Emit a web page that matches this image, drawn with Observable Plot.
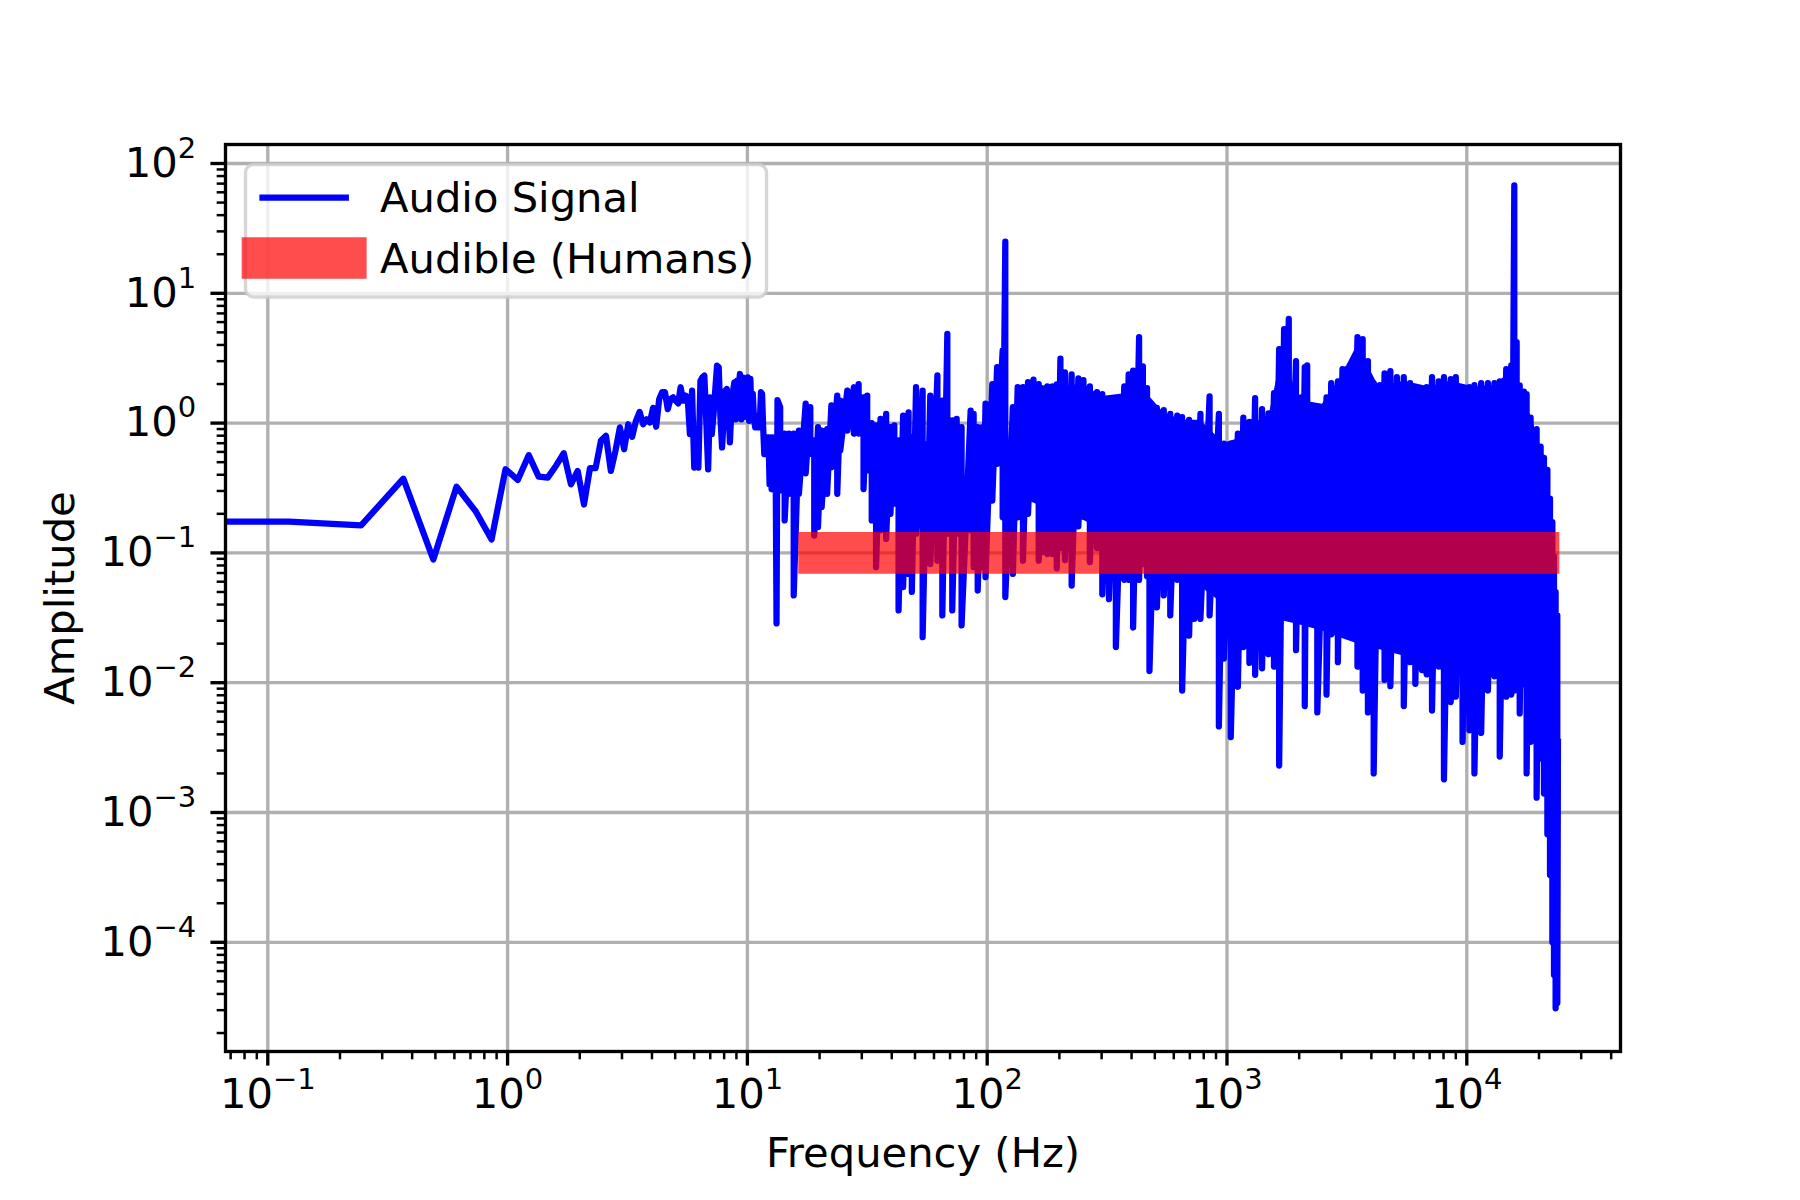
<!DOCTYPE html>
<html>
<head>
<meta charset="utf-8">
<script src="https://cdn.jsdelivr.net/npm/d3@7"></script>
<script src="https://cdn.jsdelivr.net/npm/@observablehq/plot@0.6"></script>
<style>
  html, body { margin: 0; padding: 0; background: #ffffff; }
  #chart { width: 1800px; height: 1200px; }
</style>
</head>
<body>
<div id="chart"></div>
<script>
// ---------------- DATA ----------------
// Individual FFT bins at low frequency: [frequency Hz, amplitude]
const lowBins = [
  [0, 0.174], [0.1225, 0.174], [0.245, 0.163], [0.3675, 0.373], [0.49, 0.089],
  [0.6125, 0.324], [0.735, 0.21], [0.8575, 0.127], [0.98, 0.441], [1.1025, 0.365],
  [1.225, 0.566], [1.3475, 0.387], [1.47, 0.38], [1.5925, 0.47], [1.715, 0.586],
  [1.8375, 0.337], [1.96, 0.428], [2.0825, 0.236], [2.205, 0.449], [2.3275, 0.449],
  [2.45, 0.73], [2.5725, 0.798], [2.695, 0.428], [2.8175, 0.611], [2.94, 0.926],
  [3.0625, 0.629], [3.185, 0.98], [3.3075, 0.784], [3.43, 1.04], [3.5525, 1.22],
  [3.675, 0.98], [3.7975, 1.07], [3.92, 1.01], [4.0425, 1.31], [4.165, 0.937],
  [4.2875, 1.53], [4.41, 1.73], [4.5325, 1.73], [4.655, 1.28], [4.7775, 1.53],
  [4.9, 1.58], [5.0225, 1.49], [5.145, 1.42], [5.2675, 1.89], [5.39, 1.49],
  [5.5125, 1.63], [5.635, 1.58], [5.7575, 0.822], [5.88, 1.78], [6.0025, 0.454],
  [6.125, 0.872], [6.2475, 0.454], [6.37, 2.12], [6.4925, 2.25], [6.615, 2.32],
  [6.7375, 1.04], [6.86, 0.44], [6.9825, 1.58], [7.105, 0.822], [7.2275, 1.17],
  [7.35, 1.83], [7.4725, 2.77], [7.595, 2.69], [7.7175, 1.11], [7.84, 0.649],
  [7.9625, 1.04], [8.085, 1.78], [8.2075, 1.83], [8.33, 1.49], [8.4525, 0.71],
  [8.575, 1.25], [8.6975, 1.73], [8.82, 2.06], [8.9425, 1.07], [9.065, 2.12],
  [9.1875, 1.89], [9.31, 2.39], [9.4325, 1.07], [9.555, 2.25], [9.6775, 1.11],
  [9.8, 2.12], [9.9225, 1.17], [10.045, 2.25], [10.1675, 1.04], [10.29, 2.19],
  [10.4125, 1.11], [10.535, 1.68], [10.6575, 1.07], [10.78, 0.926], [10.9025, 1.04],
  [11.025, 1.14], [11.1475, 0.926], [11.27, 1.04], [11.3925, 1.73], [11.515, 1.68],
  [11.6375, 0.926], [11.76, 0.576], [11.8825, 0.775], [12.005, 0.576], [12.1275, 0.775],
  [12.25, 0.775], [12.3725, 0.337], [12.495, 0.775], [12.6175, 0.309], [12.74, 0.775],
  [12.8625, 0.32], [12.985, 0.775], [13.1075, 0.6], [13.23, 0.0286], [13.3525, 1.5]
];

// Dense part of the spectrum, read as successive strokes: [frequency Hz, stroke top, stroke bottom]
const strokes = [
  [13.7, 1.33, 0.303], [14.3, 0.83, 0.178], [14.9, 0.83, 0.285], [15.6, 0.83, 0.047],
  [16.4, 0.877, 0.285], [17.5, 1.41, 0.41], [18.3, 1.33, 0.58], [19.0, 0.735, 0.136],
  [19.7, 0.93, 0.158], [20.4, 0.877, 0.225], [21.5, 0.90, 0.285], [22.4, 1.37, 0.457],
  [23.7, 1.63, 0.285], [24.4, 1.49, 0.615], [26.1, 1.78, 0.877], [27.8, 1.89, 0.83],
  [29.1, 2.0, 0.83], [30.5, 1.58, 0.31], [31.6, 1.63, 0.432], [33.0, 1.0, 0.178],
  [34.4, 0.96, 0.0776], [35.9, 1.08, 0.149], [37.9, 1.18, 0.128], [39.5, 0.93, 0.2],
  [41.0, 0.96, 0.24], [42.7, 0.735, 0.036], [44.6, 1.14, 0.0545], [47.0, 1.21, 0.0689],
  [48.5, 0.78, 0.05], [50.5, 1.89, 0.14], [53.8, 1.78, 0.0224], [56.0, 0.69, 0.105],
  [57.9, 1.63, 0.082], [62.0, 2.33, 0.087], [65.0, 1.49, 0.033], [68.2, 4.87, 0.14],
  [71.5, 1.05, 0.036], [74.6, 1.08, 0.14], [78.2, 0.93, 0.0276], [85.3, 1.25, 0.149],
  [87.8, 1.18, 0.0776], [91.3, 0.93, 0.0513], [95.5, 0.93, 0.0776], [98.4, 1.41, 0.065],
  [105, 2.0, 0.253], [110, 2.7, 0.486], [116, 3.63, 0.188], [119, 25, 0.0457],
  [128, 1.33, 0.0689], [134, 1.89, 0.188], [141, 1.89, 0.087], [148, 2.07, 0.2],
  [156, 2.16, 0.32], [164, 2.0, 0.087], [169, 1.86, 0.101], [178, 1.92, 0.098],
  [187, 1.92, 0.098], [195, 1.99, 0.076], [202, 3.14, 0.109], [211, 2.46, 0.088],
  [225, 2.37, 0.056], [240, 2.21, 0.16], [252, 2.14, 0.19], [268, 1.92, 0.085],
  [287, 1.73, 0.109], [302, 1.67, 0.048], [322, 1.35, 0.044], [344, 1.56, 0.0188],
  [373, 1.92, 0.062], [389, 2.37, 0.062], [406, 2.54, 0.0266], [430, 4.6, 0.062],
  [446, 2.73, 0.082], [464, 1.86, 0.066], [475, 1.35, 0.0123], [510, 1.31, 0.038],
  [545, 1.26, 0.047], [580, 1.18, 0.033], [620, 1.14, 0.062], [650, 1.11, 0.0087],
  [695, 1.06, 0.023], [730, 1.0, 0.031], [775, 1.18, 0.031], [846, 1.61, 0.033],
  [925, 1.18, 0.0046], [970, 0.696, 0.0153], [1037, 0.696, 0.0038], [1110, 0.83, 0.0093],
  [1170, 1.1, 0.0188], [1240, 1.02, 0.0142], [1310, 1.56, 0.0115], [1400, 1.28, 0.0129],
  [1490, 1.19, 0.0166], [1570, 1.7, 0.0133], [1650, 3.72, 0.0023], [1730, 5.3, 0.0517],
  [1810, 6.34, 0.0517], [1940, 3.0, 0.0178], [2040, 1.58, 0.0337], [2110, 2.7, 0.0066],
  [2160, 2.79, 0.0314], [2250, 1.37, 0.0337], [2380, 1.32, 0.0059], [2600, 1.58, 0.0081],
  [2720, 2.03, 0.0236], [2900, 2.1, 0.0144], [3030, 2.6, 0.0417], [3150, 2.6, 0.0254],
  [3340, 2.42, 0.0337], [3500, 4.6, 0.0133], [3680, 4.43, 0.0087], [3870, 3.0, 0.0059],
  [4090, 2.03, 0.002], [4330, 1.96, 0.0254], [4540, 2.42, 0.0105], [4800, 2.51, 0.0094],
  [5110, 2.26, 0.0205], [5460, 2.26, 0.0066], [5800, 2.03, 0.0144], [6100, 1.82, 0.0098],
  [6500, 1.82, 0.0125], [6800, 1.89, 0.0116], [7160, 2.26, 0.0061], [7630, 2.1, 0.0133],
  [8030, 2.26, 0.0018], [8570, 2.18, 0.0071], [9000, 2.26, 0.0078], [9600, 1.82, 0.0035],
  [10250, 1.89, 0.0043], [10760, 1.96, 0.002], [11480, 2.03, 0.0041], [12250, 2.03, 0.0087],
  [13040, 2.03, 0.0112], [13720, 2.1, 0.0027], [14600, 2.6, 0.0078], [15330, 2.79, 0.0081],
  [15780, 67.9, 0.0087], [16140, 4.2, 0.0126], [16620, 1.95, 0.0058], [17300, 1.75, 0.0097],
  [17760, 1.67, 0.002], [18460, 1.1, 0.0035], [19550, 0.9, 0.0013], [20320, 0.66, 0.0026],
  [20980, 0.54, 0.0014], [21680, 0.437, 0.00068], [22230, 0.262, 0.00033], [22740, 0.173, 0.0001],
  [23100, 0.094, 0.000056], [23460, 0.05, 0.000031], [23850, 0.033, 0.000034], [24000, 0.0035, 0.0035]
];

// Where the strokes merge into a solid band: [frequency Hz, upper, lower]
const solidCore = [
  [125, 1.3, 0.3], [150, 1.8, 0.25], [200, 1.9, 0.2], [250, 2.0, 0.18], [300, 1.6, 0.15],
  [390, 1.7, 0.12], [450, 1.8, 0.1], [545, 1.2, 0.08], [650, 1.05, 0.065], [775, 1.05, 0.055],
  [970, 0.7, 0.04], [1100, 0.75, 0.04], [1300, 1.0, 0.035], [1500, 1.15, 0.032], [1700, 3.5, 0.03],
  [2000, 1.5, 0.028], [2500, 1.4, 0.025], [3000, 2.3, 0.022], [3500, 4.0, 0.02], [4300, 1.9, 0.018],
  [5500, 2.1, 0.016], [7000, 1.9, 0.015], [8500, 2.1, 0.014], [10800, 1.9, 0.013], [13000, 1.95, 0.013],
  [15300, 2.5, 0.012], [17300, 1.6, 0.01], [19500, 0.85, 0.007], [21700, 0.4, 0.003], [22700, 0.15, 0.0008]
];

// Audible range marker (humans)
const audibleRangeHz = [20, 20000];
const audibleLevel = [0.1];

// Axes
const xMajorTicks = [0.1, 1, 10, 100, 1000, 10000];
const yMajorTicks = [1e-4, 1e-3, 1e-2, 1e-1, 1, 10, 100];
const xDomain = [0.06663, 43750];
const yDomain = [1.441e-5, 140.1];
const legendLabels = ["Audio Signal", "Audible (Humans)"];
const xLabel = "Frequency (Hz)";
const yLabel = "Amplitude";

// ---------------- BUILD ----------------
const signal = lowBins.map(([f, a]) => ({f, a}));
for (const [f, top, bottom] of strokes) {
  signal.push({f, a: top});
  signal.push({f, a: bottom});
}
const core = solidCore.map(([f, hi, lo]) => ({f, hi, lo}));

const minorMultipliers = [2, 3, 4, 5, 6, 7, 8, 9];
function minorTicks([lo, hi]) {
  const out = [];
  for (let e = Math.floor(Math.log10(lo)); e <= Math.ceil(Math.log10(hi)); e++) {
    for (const m of minorMultipliers) {
      const v = m * Math.pow(10, e);
      if (v >= lo && v <= hi) out.push(v);
    }
  }
  return out;
}
const powerLabel = (d) => "10^" + Math.round(Math.log10(d));

const BLUE = "#0000ff";
const GRID = "#b0b0b0";
const FS = 41.67;

const plot = Plot.plot({
  width: 1800,
  height: 1200,
  marginLeft: 225,
  marginRight: 180,
  marginTop: 144,
  marginBottom: 149,
  x: {type: "log", domain: xDomain},
  y: {type: "log", domain: yDomain},
  style: {fontFamily: "'DejaVu Sans', sans-serif", fontSize: FS + "px", color: "black", background: "white", overflow: "visible"},
  marks: [
    Plot.gridX(xMajorTicks, {stroke: GRID, strokeOpacity: 1, strokeWidth: 3.33}),
    Plot.gridY(yMajorTicks, {stroke: GRID, strokeOpacity: 1, strokeWidth: 3.33}),
    Plot.areaY(core, {x: "f", y1: "lo", y2: "hi", fill: BLUE}),
    Plot.line(signal, {
      x: (d) => (d.f > 0 ? d.f : 1e-3), y: "a",
      stroke: BLUE, strokeWidth: 6.25, strokeLinejoin: "round", strokeLinecap: "square", clip: "frame"
    }),
    Plot.ruleY(audibleLevel, {
      x1: audibleRangeHz[0], x2: audibleRangeHz[1],
      stroke: "red", strokeOpacity: 0.7, strokeWidth: 41.67, strokeLinecap: "square"
    }),
    Plot.frame({stroke: "black", strokeWidth: 3.33}),
    Plot.axisX(minorTicks(xDomain), {tickSize: 8.33, strokeWidth: 2.5, tickFormat: () => "", label: null}),
    Plot.axisX(xMajorTicks, {tickSize: 14.58, strokeWidth: 3.33, tickPadding: 12.8, tickFormat: powerLabel, label: null}),
    Plot.axisY(minorTicks(yDomain), {tickSize: 8.33, strokeWidth: 2.5, tickFormat: () => "", label: null}),
    Plot.axisY(yMajorTicks, {tickSize: 14.58, strokeWidth: 3.33, tickPadding: 14.6, tickFormat: powerLabel, label: null}),
    Plot.text([xLabel], {frameAnchor: "bottom", dy: 115, lineAnchor: "bottom", textAnchor: "middle", fontSize: FS}),
    Plot.text([yLabel], {frameAnchor: "left", rotate: -90, dx: -152, lineAnchor: "bottom", textAnchor: "middle", fontSize: FS})
  ]
});

// Render powers of ten with a raised exponent, like the reference.
const svg = d3.select(plot);
svg.selectAll("text").each(function () {
  const t = this.textContent;
  const m = /^10\^(-?\d+)$/.exec(t);
  if (!m) return;
  const el = d3.select(this);
  el.text("10");
  el.append("tspan")
    .attr("dy", -19)
    .attr("font-size", 29)
    .text(m[1].replace("-", "\u2212"));
});

// Legend (upper left, inside the axes)
const lg = svg.append("g")
  .attr("font-family", "'DejaVu Sans', sans-serif")
  .attr("font-size", FS)
  .attr("text-anchor", "start");
lg.append("rect")
  .attr("x", 245.5).attr("y", 164.5).attr("width", 521).attr("height", 132.5)
  .attr("rx", 8).attr("ry", 8)
  .attr("fill", "white").attr("fill-opacity", 0.8)
  .attr("stroke", "#cccccc").attr("stroke-opacity", 0.8).attr("stroke-width", 3.33);
lg.append("line")
  .attr("x1", 262.5).attr("x2", 345.8).attr("y1", 197.7).attr("y2", 197.7)
  .attr("stroke", BLUE).attr("stroke-width", 6.25).attr("stroke-linecap", "square");
lg.append("line")
  .attr("x1", 262.5).attr("x2", 345.8).attr("y1", 258).attr("y2", 258)
  .attr("stroke", "red").attr("stroke-opacity", 0.7).attr("stroke-width", 41.67).attr("stroke-linecap", "square");
lg.append("text").attr("x", 380).attr("y", 211.7).attr("fill", "black").attr("text-anchor", "start").text(legendLabels[0]);
lg.append("text").attr("x", 380).attr("y", 273).attr("fill", "black").attr("text-anchor", "start").text(legendLabels[1]);

document.getElementById("chart").appendChild(plot);
</script>
</body>
</html>
